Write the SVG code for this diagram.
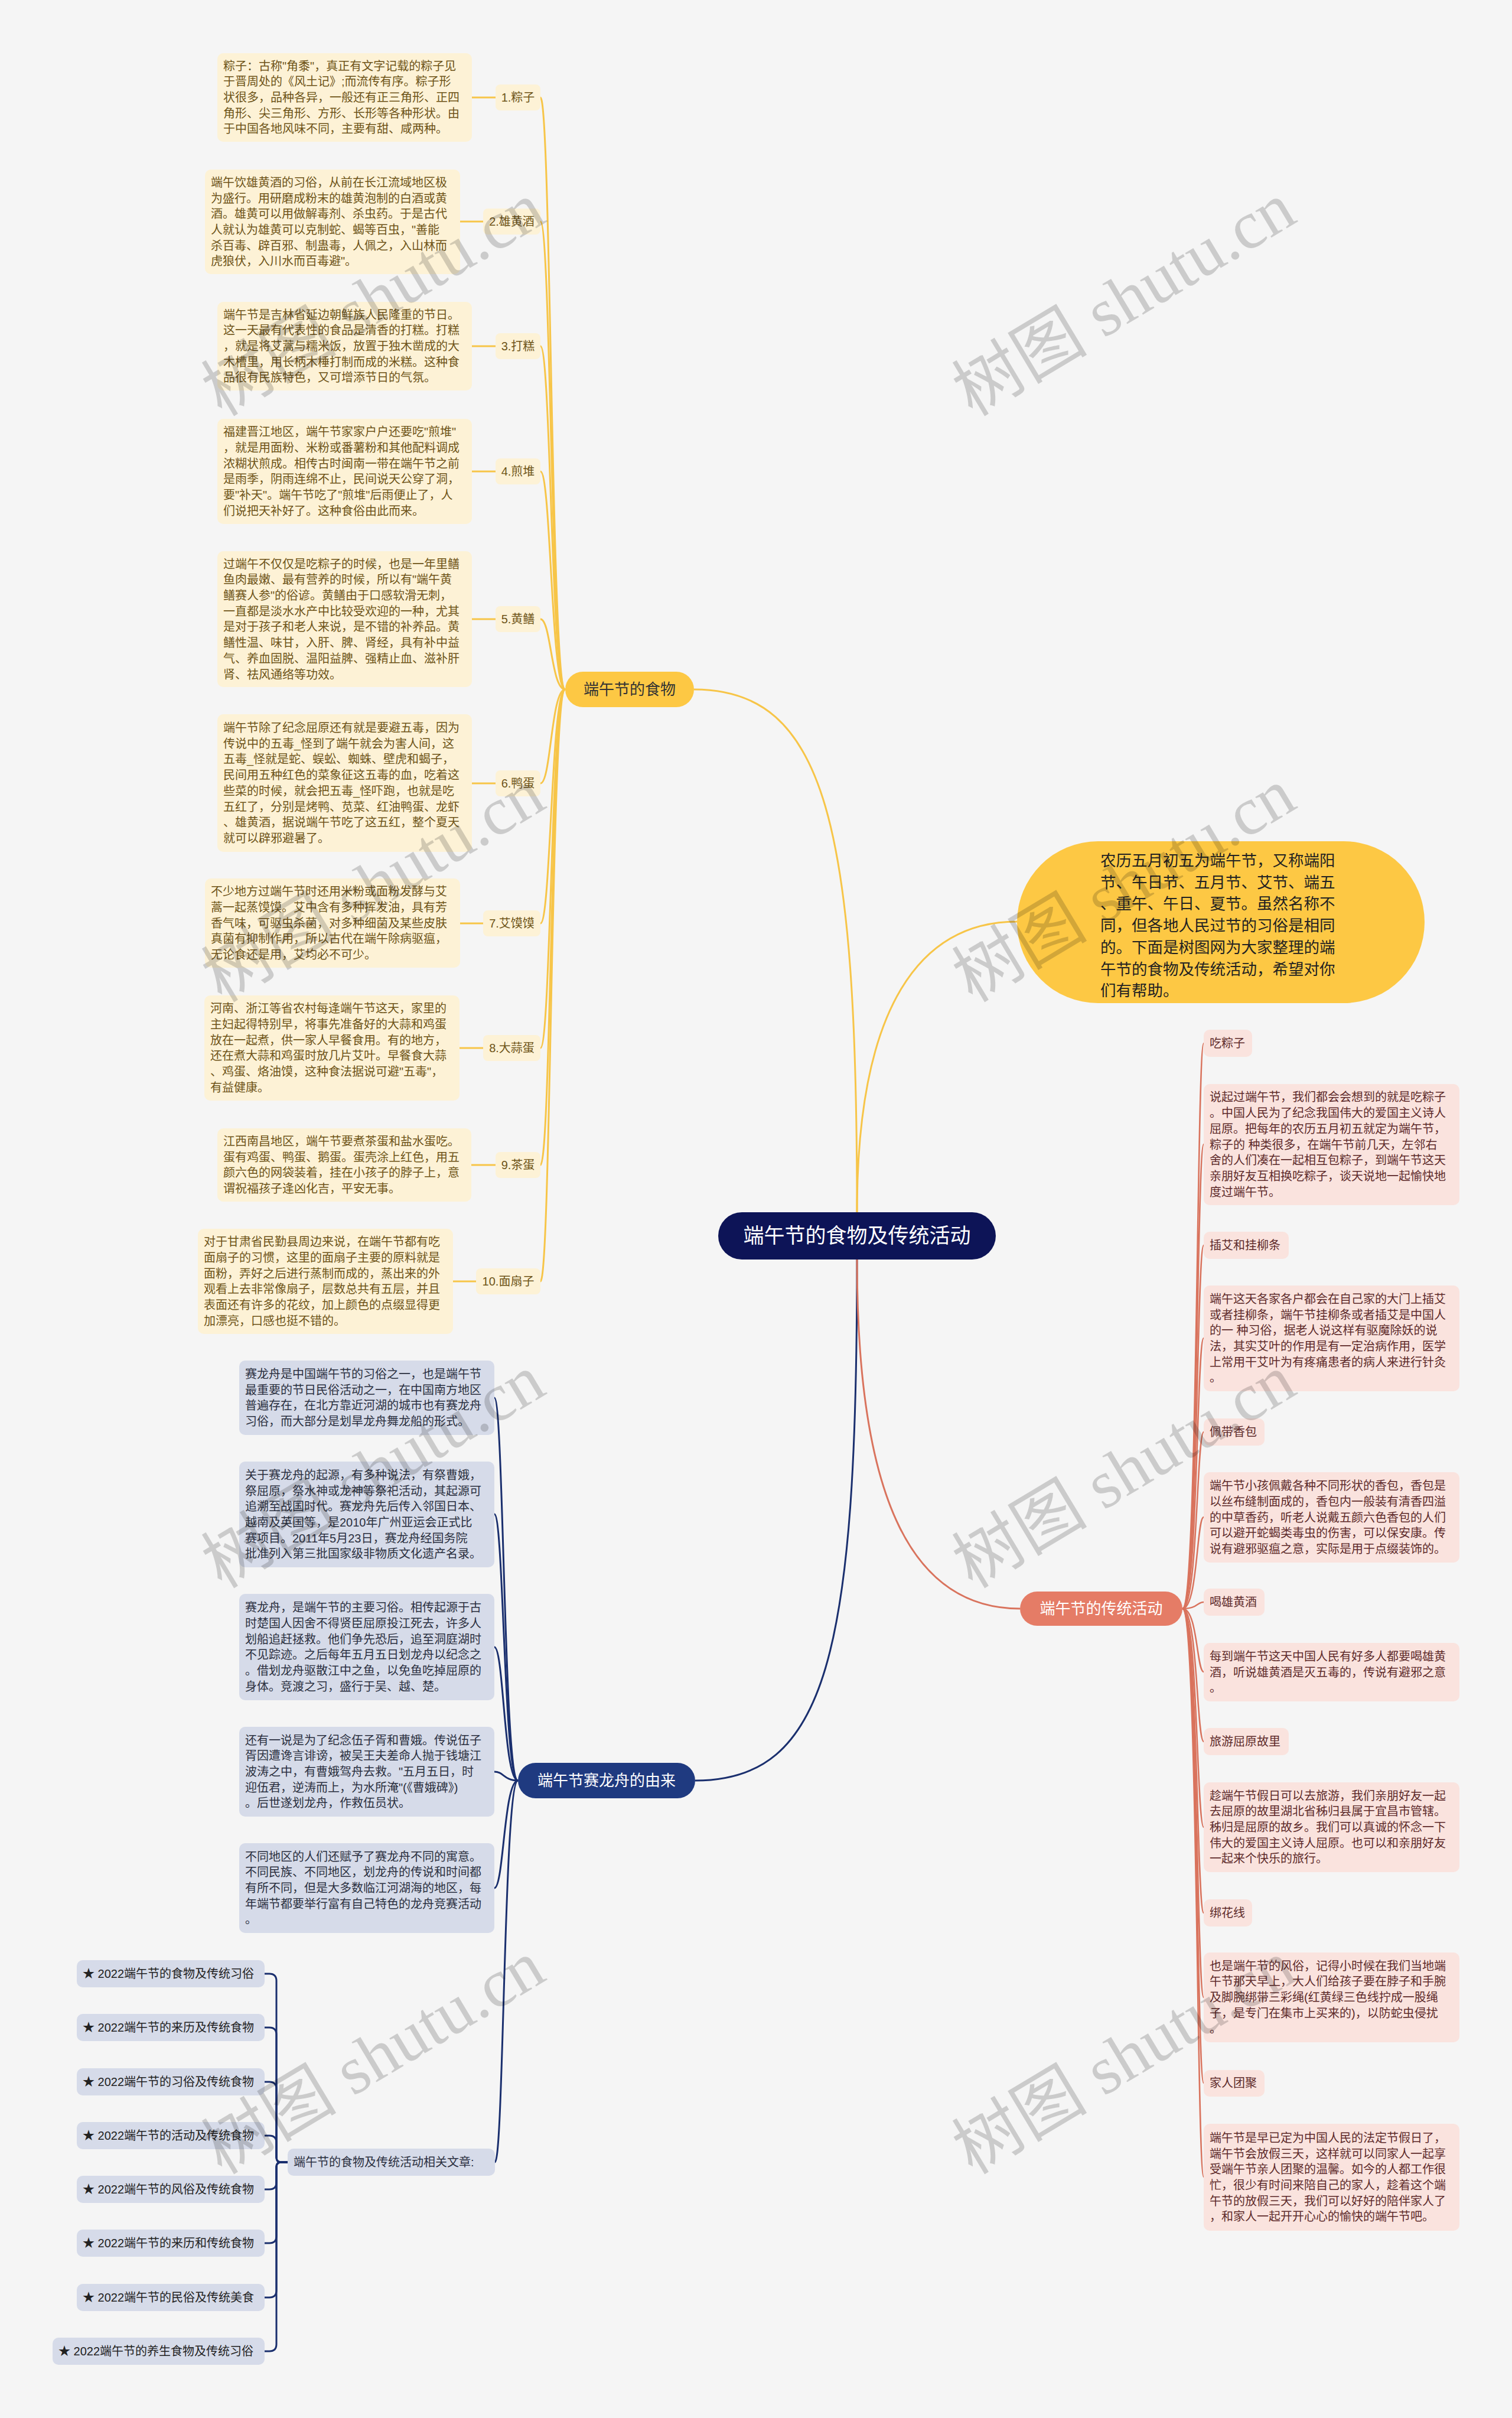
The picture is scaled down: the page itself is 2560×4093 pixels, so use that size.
<svg xmlns="http://www.w3.org/2000/svg" width="2560" height="4093" viewBox="0 0 2560 4093">
<style>
text{font-family:"Liberation Sans","Noto Sans CJK SC",sans-serif;}
.fb{fill:#fdf2d6}
.ft{fill:#6e5418;font-size:20px}
.db{fill:#d6dbe9}
.dt{fill:#2b3040;font-size:20px}
.ab{fill:#fae3de}
.at{fill:#5e2b2b;font-size:20px}
.cy{fill:none;stroke:#f7c548;stroke-width:3}
.cn{fill:none;stroke:#1a2f6e;stroke-width:3}
.cr{fill:none;stroke:#d9735d;stroke-width:2.5}
.wm{font-family:"Liberation Serif","Noto Sans CJK SC",serif;font-size:115px;fill:#000;fill-opacity:0.17}
</style>
<rect width="2560" height="4093" fill="#f5f5f5"/>

<g id="connectors">
  <path class="cy" d="M1451 2052 C1451 1400 1400 1167 1175 1167"/>
  <path class="cy" d="M1451 2052 C1451 1700 1560 1560 1722 1560"/>
  <path class="cn" d="M1451 2132 C1451 2800 1400 3014 1177 3014"/>
  <path class="cr" d="M1451 2132 C1451 2550 1550 2723 1727 2723" style="stroke-width:3"/>
  <path class="cy" d="M957 1167 C933 1167 933 165 915 165"/>
  <path class="cy" d="M957 1167 C933 1167 933 375 915 375"/>
  <path class="cy" d="M957 1167 C933 1167 933 586 915 586"/>
  <path class="cy" d="M957 1167 C933 1167 933 798 915 798"/>
  <path class="cy" d="M957 1167 C933 1167 933 1048 915 1048"/>
  <path class="cy" d="M957 1167 C933 1167 933 1326 915 1326"/>
  <path class="cy" d="M957 1167 C933 1167 933 1563 915 1563"/>
  <path class="cy" d="M957 1167 C933 1167 933 1774 915 1774"/>
  <path class="cy" d="M957 1167 C933 1167 933 1972 915 1972"/>
  <path class="cy" d="M957 1167 C933 1167 933 2169 915 2169"/>
  <path class="cy" d="M799 165 H839 M779 375 H818 M799 586 H839 M799 798 H839 M799 1048 H839 M799 1326 H839 M779 1563 H818 M778 1774 H818 M798 1972 H839 M767 2169 H806"/>
  <path class="cn" d="M877 3014 C853 3014 853 2366 837 2366"/>
  <path class="cn" d="M877 3014 C853 3014 853 2563 837 2563"/>
  <path class="cn" d="M877 3014 C853 3014 853 2788 837 2788"/>
  <path class="cn" d="M877 3014 C853 3014 853 2999 837 2999"/>
  <path class="cn" d="M877 3014 C853 3014 853 3196 837 3196"/>
  <path class="cn" d="M877 3014 C853 3014 853 3660 838 3660"/>
  <path class="cn" d="M487 3660 H476 Q468 3660 468 3652 V3353 Q468 3341 456 3341 H448"/>
  <path class="cn" d="M487 3660 H476 Q468 3660 468 3652 V3444 Q468 3432 456 3432 H448"/>
  <path class="cn" d="M487 3660 H476 Q468 3660 468 3652 V3536 Q468 3524 456 3524 H448"/>
  <path class="cn" d="M487 3660 H476 Q468 3660 468 3652 V3627 Q468 3615 456 3615 H448"/>
  <path class="cn" d="M487 3660 H476 Q468 3660 468 3668 V3694 Q468 3706 456 3706 H448"/>
  <path class="cn" d="M487 3660 H476 Q468 3660 468 3668 V3785 Q468 3797 456 3797 H448"/>
  <path class="cn" d="M487 3660 H476 Q468 3660 468 3668 V3877 Q468 3889 456 3889 H448"/>
  <path class="cn" d="M487 3660 H476 Q468 3660 468 3668 V3968 Q468 3980 456 3980 H448"/>
  <path class="cr" d="M2002 2723 C2028 2723 2026 1766 2038 1766"/>
  <path class="cr" d="M2002 2723 C2028 2723 2026 1937 2038 1937"/>
  <path class="cr" d="M2002 2723 C2028 2723 2026 2108 2038 2108"/>
  <path class="cr" d="M2002 2723 C2028 2723 2026 2265 2038 2265"/>
  <path class="cr" d="M2002 2723 C2028 2723 2026 2424 2038 2424"/>
  <path class="cr" d="M2002 2723 C2028 2723 2026 2568 2038 2568"/>
  <path class="cr" d="M2002 2723 C2028 2723 2026 2712 2038 2712"/>
  <path class="cr" d="M2002 2723 C2028 2723 2026 2830 2038 2830"/>
  <path class="cr" d="M2002 2723 C2028 2723 2026 2948 2038 2948"/>
  <path class="cr" d="M2002 2723 C2028 2723 2026 3093 2038 3093"/>
  <path class="cr" d="M2002 2723 C2028 2723 2026 3238 2038 3238"/>
  <path class="cr" d="M2002 2723 C2028 2723 2026 3381 2038 3381"/>
  <path class="cr" d="M2002 2723 C2028 2723 2026 3526 2038 3526"/>
  <path class="cr" d="M2002 2723 C2028 2723 2026 3685 2038 3685"/>
</g>

<g id="root">
  <rect x="1216" y="2052" width="470" height="80" rx="40" fill="#0d1457"/>
  <text x="1451" y="2104" text-anchor="middle" font-size="35" fill="#fff">端午节的食物及传统活动</text>
</g>

<g id="intro">
  <rect x="1722" y="1424" width="690" height="274" rx="137" fill="#fdc844"/>
  <text fill="#222" font-size="26.5"><tspan x="1863" y="1466">农历五月初五为端午节，又称端阳</tspan><tspan x="1863" dy="36.7">节、午日节、五月节、艾节、端五</tspan><tspan x="1863" dy="36.7">、重午、午日、夏节。虽然名称不</tspan><tspan x="1863" dy="36.7">同，但各地人民过节的习俗是相同</tspan><tspan x="1863" dy="36.7">的。下面是树图网为大家整理的端</tspan><tspan x="1863" dy="36.7">午节的食物及传统活动，希望对你</tspan><tspan x="1863" dy="36.7">们有帮助。</tspan></text>
</g>

<g id="food">
  <rect x="957" y="1137" width="218" height="60" rx="30" fill="#fdc844"/>
  <text x="1066" y="1176" text-anchor="middle" font-size="26" fill="#333">端午节的食物</text>
</g>

<g id="food-1">
  <rect x="839" y="143" width="76" height="44" rx="8" class="fb"/><text x="877" y="172" text-anchor="middle" class="ft">1.粽子</text>
  <rect x="368" y="90" width="431" height="150" rx="10" class="fb"/>
  <text class="ft"><tspan x="378" y="118.6">粽子：古称"角黍"，真正有文字记载的粽子见</tspan><tspan x="378" dy="26.7">于晋周处的《风土记》;而流传有序。粽子形</tspan><tspan x="378" dy="26.7">状很多，品种各异，一般还有正三角形、正四</tspan><tspan x="378" dy="26.7">角形、尖三角形、方形、长形等各种形状。由</tspan><tspan x="378" dy="26.7">于中国各地风味不同，主要有甜、咸两种。</tspan></text>
</g>
<g id="food-2">
  <rect x="818" y="353" width="97" height="44" rx="8" class="fb"/><text x="866.5" y="382" text-anchor="middle" class="ft">2.雄黄酒</text>
  <rect x="347" y="287" width="432" height="177" rx="10" class="fb"/>
  <text class="ft"><tspan x="357" y="315.8">端午饮雄黄酒的习俗，从前在长江流域地区极</tspan><tspan x="357" dy="26.7">为盛行。用研磨成粉末的雄黄泡制的白酒或黄</tspan><tspan x="357" dy="26.7">酒。雄黄可以用做解毒剂、杀虫药。于是古代</tspan><tspan x="357" dy="26.7">人就认为雄黄可以克制蛇、蝎等百虫，"善能</tspan><tspan x="357" dy="26.7">杀百毒、辟百邪、制蛊毒，人佩之，入山林而</tspan><tspan x="357" dy="26.7">虎狼伏，入川水而百毒避"。</tspan></text>
</g>
<g id="food-3">
  <rect x="839" y="564" width="76" height="44" rx="8" class="fb"/><text x="877" y="593" text-anchor="middle" class="ft">3.打糕</text>
  <rect x="368" y="511" width="431" height="150" rx="10" class="fb"/>
  <text class="ft"><tspan x="378" y="539.6">端午节是吉林省延边朝鲜族人民隆重的节日。</tspan><tspan x="378" dy="26.7">这一天最有代表性的食品是清香的打糕。打糕</tspan><tspan x="378" dy="26.7">，就是将艾蒿与糯米饭，放置于独木凿成的大</tspan><tspan x="378" dy="26.7">木槽里，用长柄木棰打制而成的米糕。这种食</tspan><tspan x="378" dy="26.7">品很有民族特色，又可增添节日的气氛。</tspan></text>
</g>
<g id="food-4">
  <rect x="839" y="776" width="76" height="44" rx="8" class="fb"/><text x="877" y="805" text-anchor="middle" class="ft">4.煎堆</text>
  <rect x="368" y="709" width="431" height="178" rx="10" class="fb"/>
  <text class="ft"><tspan x="378" y="738.3">福建晋江地区，端午节家家户户还要吃"煎堆"</tspan><tspan x="378" dy="26.7">，就是用面粉、米粉或番薯粉和其他配料调成</tspan><tspan x="378" dy="26.7">浓糊状煎成。相传古时闽南一带在端午节之前</tspan><tspan x="378" dy="26.7">是雨季，阴雨连绵不止，民间说天公穿了洞，</tspan><tspan x="378" dy="26.7">要"补天"。端午节吃了"煎堆"后雨便止了，人</tspan><tspan x="378" dy="26.7">们说把天补好了。这种食俗由此而来。</tspan></text>
</g>
<g id="food-5">
  <rect x="839" y="1026" width="76" height="44" rx="8" class="fb"/><text x="877" y="1055" text-anchor="middle" class="ft">5.黄鳝</text>
  <rect x="368" y="933" width="431" height="230" rx="10" class="fb"/>
  <text class="ft"><tspan x="378" y="961.6">过端午不仅仅是吃粽子的时候，也是一年里鳝</tspan><tspan x="378" dy="26.7">鱼肉最嫩、最有营养的时候，所以有"端午黄</tspan><tspan x="378" dy="26.7">鳝赛人参"的俗谚。黄鳝由于口感软滑无刺，</tspan><tspan x="378" dy="26.7">一直都是淡水水产中比较受欢迎的一种，尤其</tspan><tspan x="378" dy="26.7">是对于孩子和老人来说，是不错的补养品。黄</tspan><tspan x="378" dy="26.7">鳝性温、味甘，入肝、脾、肾经，具有补中益</tspan><tspan x="378" dy="26.7">气、养血固脱、温阳益脾、强精止血、滋补肝</tspan><tspan x="378" dy="26.7">肾、祛风通络等功效。</tspan></text>
</g>
<g id="food-6">
  <rect x="839" y="1304" width="76" height="44" rx="8" class="fb"/><text x="877" y="1333" text-anchor="middle" class="ft">6.鸭蛋</text>
  <rect x="368" y="1209" width="431" height="233" rx="10" class="fb"/>
  <text class="ft"><tspan x="378" y="1239">端午节除了纪念屈原还有就是要避五毒，因为</tspan><tspan x="378" dy="26.7">传说中的五毒_怪到了端午就会为害人间，这</tspan><tspan x="378" dy="26.7">五毒_怪就是蛇、蜈蚣、蜘蛛、壁虎和蝎子，</tspan><tspan x="378" dy="26.7">民间用五种红色的菜象征这五毒的血，吃着这</tspan><tspan x="378" dy="26.7">些菜的时候，就会把五毒_怪吓跑，也就是吃</tspan><tspan x="378" dy="26.7">五红了，分别是烤鸭、苋菜、红油鸭蛋、龙虾</tspan><tspan x="378" dy="26.7">、雄黄酒，据说端午节吃了这五红，整个夏天</tspan><tspan x="378" dy="26.7">就可以辟邪避暑了。</tspan></text>
</g>
<g id="food-7">
  <rect x="818" y="1541" width="97" height="44" rx="8" class="fb"/><text x="866.5" y="1570" text-anchor="middle" class="ft">7.艾馍馍</text>
  <rect x="347" y="1487" width="432" height="151" rx="10" class="fb"/>
  <text class="ft"><tspan x="357" y="1516.1">不少地方过端午节时还用米粉或面粉发酵与艾</tspan><tspan x="357" dy="26.7">蒿一起蒸馍馍。艾中含有多种挥发油，具有芳</tspan><tspan x="357" dy="26.7">香气味，可驱虫杀菌，对多种细菌及某些皮肤</tspan><tspan x="357" dy="26.7">真菌有抑制作用，所以古代在端午除病驱瘟，</tspan><tspan x="357" dy="26.7">无论食还是用，艾均必不可少。</tspan></text>
</g>
<g id="food-8">
  <rect x="818" y="1752" width="97" height="44" rx="8" class="fb"/><text x="866.5" y="1781" text-anchor="middle" class="ft">8.大蒜蛋</text>
  <rect x="346" y="1685" width="432" height="178" rx="10" class="fb"/>
  <text class="ft"><tspan x="356" y="1714.3">河南、浙江等省农村每逢端午节这天，家里的</tspan><tspan x="356" dy="26.7">主妇起得特别早，将事先准备好的大蒜和鸡蛋</tspan><tspan x="356" dy="26.7">放在一起煮，供一家人早餐食用。有的地方，</tspan><tspan x="356" dy="26.7">还在煮大蒜和鸡蛋时放几片艾叶。早餐食大蒜</tspan><tspan x="356" dy="26.7">、鸡蛋、烙油馍，这种食法据说可避"五毒"，</tspan><tspan x="356" dy="26.7">有益健康。</tspan></text>
</g>
<g id="food-9">
  <rect x="839" y="1950" width="76" height="44" rx="8" class="fb"/><text x="877" y="1979" text-anchor="middle" class="ft">9.茶蛋</text>
  <rect x="368" y="1910" width="430" height="124" rx="10" class="fb"/>
  <text class="ft"><tspan x="378" y="1939">江西南昌地区，端午节要煮茶蛋和盐水蛋吃。</tspan><tspan x="378" dy="26.7">蛋有鸡蛋、鸭蛋、鹅蛋。蛋壳涂上红色，用五</tspan><tspan x="378" dy="26.7">颜六色的网袋装着，挂在小孩子的脖子上，意</tspan><tspan x="378" dy="26.7">谓祝福孩子逢凶化吉，平安无事。</tspan></text>
</g>
<g id="food-10">
  <rect x="806" y="2147" width="109" height="44" rx="8" class="fb"/><text x="860.5" y="2176" text-anchor="middle" class="ft">10.面扇子</text>
  <rect x="335" y="2080" width="432" height="178" rx="10" class="fb"/>
  <text class="ft"><tspan x="345" y="2109.3">对于甘肃省民勤县周边来说，在端午节都有吃</tspan><tspan x="345" dy="26.7">面扇子的习惯，这里的面扇子主要的原料就是</tspan><tspan x="345" dy="26.7">面粉，弄好之后进行蒸制而成的，蒸出来的外</tspan><tspan x="345" dy="26.7">观看上去非常像扇子，层数总共有五层，并且</tspan><tspan x="345" dy="26.7">表面还有许多的花纹，加上颜色的点缀显得更</tspan><tspan x="345" dy="26.7">加漂亮，口感也挺不错的。</tspan></text>
</g>

<g id="dragon">
  <rect x="877" y="2984" width="300" height="60" rx="30" fill="#1f3a80"/>
  <text x="1027" y="3023" text-anchor="middle" font-size="26" fill="#fff">端午节赛龙舟的由来</text>
</g>
<g id="dragon-1">
  <rect x="405" y="2303" width="432" height="126" rx="10" class="db"/>
  <text class="dt"><tspan x="415" y="2333">赛龙舟是中国端午节的习俗之一，也是端午节</tspan><tspan x="415" dy="26.7">最重要的节日民俗活动之一，在中国南方地区</tspan><tspan x="415" dy="26.7">普遍存在，在北方靠近河湖的城市也有赛龙舟</tspan><tspan x="415" dy="26.7">习俗，而大部分是划旱龙舟舞龙船的形式。</tspan></text>
</g>
<g id="dragon-2">
  <rect x="405" y="2474" width="432" height="179" rx="10" class="db"/>
  <text class="dt"><tspan x="415" y="2503.8">关于赛龙舟的起源，有多种说法，有祭曹娥，</tspan><tspan x="415" dy="26.7">祭屈原，祭水神或龙神等祭祀活动，其起源可</tspan><tspan x="415" dy="26.7">追溯至战国时代。赛龙舟先后传入邻国日本、</tspan><tspan x="415" dy="26.7">越南及英国等，是2010年广州亚运会正式比</tspan><tspan x="415" dy="26.7">赛项目。2011年5月23日，赛龙舟经国务院</tspan><tspan x="415" dy="26.7">批准列入第三批国家级非物质文化遗产名录。</tspan></text>
</g>
<g id="dragon-3">
  <rect x="405" y="2698" width="432" height="180" rx="10" class="db"/>
  <text class="dt"><tspan x="415" y="2728.3">赛龙舟，是端午节的主要习俗。相传起源于古</tspan><tspan x="415" dy="26.7">时楚国人因舍不得贤臣屈原投江死去，许多人</tspan><tspan x="415" dy="26.7">划船追赶拯救。他们争先恐后，追至洞庭湖时</tspan><tspan x="415" dy="26.7">不见踪迹。之后每年五月五日划龙舟以纪念之</tspan><tspan x="415" dy="26.7">。借划龙舟驱散江中之鱼，以免鱼吃掉屈原的</tspan><tspan x="415" dy="26.7">身体。竞渡之习，盛行于吴、越、楚。</tspan></text>
</g>
<g id="dragon-4">
  <rect x="405" y="2923" width="432" height="152" rx="10" class="db"/>
  <text class="dt"><tspan x="415" y="2952.6">还有一说是为了纪念伍子胥和曹娥。传说伍子</tspan><tspan x="415" dy="26.7">胥因遭谗言诽谤，被吴王夫差命人抛于钱塘江</tspan><tspan x="415" dy="26.7">波涛之中，有曹娥驾舟去救。"五月五日，时</tspan><tspan x="415" dy="26.7">迎伍君，逆涛而上，为水所淹"(《曹娥碑》)</tspan><tspan x="415" dy="26.7">。后世遂划龙舟，作救伍员状。</tspan></text>
</g>
<g id="dragon-5">
  <rect x="405" y="3120" width="432" height="152" rx="10" class="db"/>
  <text class="dt"><tspan x="415" y="3149.6">不同地区的人们还赋予了赛龙舟不同的寓意。</tspan><tspan x="415" dy="26.7">不同民族、不同地区，划龙舟的传说和时间都</tspan><tspan x="415" dy="26.7">有所不同，但是大多数临江河湖海的地区，每</tspan><tspan x="415" dy="26.7">年端节都要举行富有自己特色的龙舟竞赛活动</tspan><tspan x="415" dy="26.7">。</tspan></text>
</g>
<g id="related">
  <rect x="487" y="3637" width="351" height="46" rx="10" class="db"/>
  <text x="497" y="3667" class="dt" fill="#222">端午节的食物及传统活动相关文章:</text>
</g>
<g id="articles" class="dt">
  <rect x="130" y="3318" width="318" height="46" rx="10" class="db"/><text x="140" y="3348" style="fill:#222">★ 2022端午节的食物及传统习俗</text>
  <rect x="130" y="3409" width="318" height="46" rx="10" class="db"/><text x="140" y="3439" style="fill:#222">★ 2022端午节的来历及传统食物</text>
  <rect x="130" y="3501" width="318" height="46" rx="10" class="db"/><text x="140" y="3531" style="fill:#222">★ 2022端午节的习俗及传统食物</text>
  <rect x="130" y="3592" width="318" height="46" rx="10" class="db"/><text x="140" y="3622" style="fill:#222">★ 2022端午节的活动及传统食物</text>
  <rect x="130" y="3683" width="318" height="46" rx="10" class="db"/><text x="140" y="3713" style="fill:#222">★ 2022端午节的风俗及传统食物</text>
  <rect x="130" y="3774" width="318" height="46" rx="10" class="db"/><text x="140" y="3804" style="fill:#222">★ 2022端午节的来历和传统食物</text>
  <rect x="130" y="3866" width="318" height="46" rx="10" class="db"/><text x="140" y="3896" style="fill:#222">★ 2022端午节的民俗及传统美食</text>
  <rect x="89" y="3957" width="359" height="46" rx="10" class="db"/><text x="99" y="3987" style="fill:#222">★ 2022端午节的养生食物及传统习俗</text>
</g>

<g id="activity">
  <rect x="1727" y="2694" width="275" height="58" rx="29" fill="#e57c66"/>
  <text x="1864.5" y="2732" text-anchor="middle" font-size="26" fill="#fff">端午节的传统活动</text>
</g>
<g id="act-1">
  <rect x="2038" y="1743" width="82" height="46" rx="10" class="ab"/><text x="2048" y="1773" class="at">吃粽子</text>
  <rect x="2038" y="1835" width="433" height="205" rx="10" class="ab"/>
  <text class="at"><tspan x="2048" y="1864.4">说起过端午节，我们都会会想到的就是吃粽子</tspan><tspan x="2048" dy="26.7">。中国人民为了纪念我国伟大的爱国主义诗人</tspan><tspan x="2048" dy="26.7">屈原。把每年的农历五月初五就定为端午节，</tspan><tspan x="2048" dy="26.7">粽子的 种类很多，在端午节前几天，左邻右</tspan><tspan x="2048" dy="26.7">舍的人们凑在一起相互包粽子，到端午节这天</tspan><tspan x="2048" dy="26.7">亲朋好友互相换吃粽子，谈天说地一起愉快地</tspan><tspan x="2048" dy="26.7">度过端午节。</tspan></text>
</g>
<g id="act-2">
  <rect x="2038" y="2085" width="144" height="46" rx="10" class="ab"/><text x="2048" y="2115" class="at">插艾和挂柳条</text>
  <rect x="2038" y="2176" width="433" height="179" rx="10" class="ab"/>
  <text class="at"><tspan x="2048" y="2205.8">端午这天各家各户都会在自己家的大门上插艾</tspan><tspan x="2048" dy="26.7">或者挂柳条，端午节挂柳条或者插艾是中国人</tspan><tspan x="2048" dy="26.7">的一 种习俗，据老人说这样有驱魔除妖的说</tspan><tspan x="2048" dy="26.7">法，其实艾叶的作用是有一定治病作用，医学</tspan><tspan x="2048" dy="26.7">上常用干艾叶为有疼痛患者的病人来进行针灸</tspan><tspan x="2048" dy="26.7">。</tspan></text>
</g>
<g id="act-3">
  <rect x="2038" y="2401" width="103" height="46" rx="10" class="ab"/><text x="2048" y="2431" class="at">佩带香包</text>
  <rect x="2038" y="2492" width="433" height="153" rx="10" class="ab"/>
  <text class="at"><tspan x="2048" y="2522.1">端午节小孩佩戴各种不同形状的香包，香包是</tspan><tspan x="2048" dy="26.7">以丝布缝制面成的，香包内一般装有清香四溢</tspan><tspan x="2048" dy="26.7">的中草香药，听老人说戴五颜六色香包的人们</tspan><tspan x="2048" dy="26.7">可以避开蛇蝎类毒虫的伤害，可以保安康。传</tspan><tspan x="2048" dy="26.7">说有避邪驱瘟之意，实际是用于点缀装饰的。</tspan></text>
</g>
<g id="act-4">
  <rect x="2038" y="2689" width="103" height="46" rx="10" class="ab"/><text x="2048" y="2719" class="at">喝雄黄酒</text>
  <rect x="2038" y="2781" width="433" height="99" rx="10" class="ab"/>
  <text class="at"><tspan x="2048" y="2810.8">每到端午节这天中国人民有好多人都要喝雄黄</tspan><tspan x="2048" dy="26.7">酒，听说雄黄酒是灭五毒的，传说有避邪之意</tspan><tspan x="2048" dy="26.7">。</tspan></text>
</g>
<g id="act-5">
  <rect x="2038" y="2925" width="144" height="46" rx="10" class="ab"/><text x="2048" y="2955" class="at">旅游屈原故里</text>
  <rect x="2038" y="3017" width="433" height="152" rx="10" class="ab"/>
  <text class="at"><tspan x="2048" y="3046.6">趁端午节假日可以去旅游，我们亲朋好友一起</tspan><tspan x="2048" dy="26.7">去屈原的故里湖北省秭归县属于宜昌市管辖。</tspan><tspan x="2048" dy="26.7">秭归是屈原的故乡。我们可以真诚的怀念一下</tspan><tspan x="2048" dy="26.7">伟大的爱国主义诗人屈原。也可以和亲朋好友</tspan><tspan x="2048" dy="26.7">一起来个快乐的旅行。</tspan></text>
</g>
<g id="act-6">
  <rect x="2038" y="3215" width="82" height="46" rx="10" class="ab"/><text x="2048" y="3245" class="at">绑花线</text>
  <rect x="2038" y="3305" width="433" height="152" rx="10" class="ab"/>
  <text class="at"><tspan x="2048" y="3334.6">也是端午节的风俗，记得小时候在我们当地端</tspan><tspan x="2048" dy="26.7">午节那天早上，大人们给孩子要在脖子和手腕</tspan><tspan x="2048" dy="26.7">及脚腕绑带三彩绳(红黄绿三色线拧成一股绳</tspan><tspan x="2048" dy="26.7">子，是专门在集市上买来的)，以防蛇虫侵扰</tspan><tspan x="2048" dy="26.7">。</tspan></text>
</g>
<g id="act-7">
  <rect x="2038" y="3504" width="103" height="45" rx="10" class="ab"/><text x="2048" y="3533" class="at">家人团聚</text>
  <rect x="2038" y="3595" width="433" height="181" rx="10" class="ab"/>
  <text class="at"><tspan x="2048" y="3625.8">端午节是早已定为中国人民的法定节假日了，</tspan><tspan x="2048" dy="26.7">端午节会放假三天，这样就可以同家人一起享</tspan><tspan x="2048" dy="26.7">受端午节亲人团聚的温馨。如今的人都工作很</tspan><tspan x="2048" dy="26.7">忙，很少有时间来陪自己的家人，趁着这个端</tspan><tspan x="2048" dy="26.7">午节的放假三天，我们可以好好的陪伴家人了</tspan><tspan x="2048" dy="26.7">，和家人一起开开心心的愉快的端午节吧。</tspan></text>
</g>

<g id="watermark" class="wm" text-anchor="middle">
  <text class="wm" transform="translate(652,540) rotate(-31)">树图 shutu.cn</text>
  <text class="wm" transform="translate(1923,540) rotate(-31)">树图 shutu.cn</text>
  <text class="wm" transform="translate(652,1532) rotate(-31)">树图 shutu.cn</text>
  <text class="wm" transform="translate(1923,1532) rotate(-31)">树图 shutu.cn</text>
  <text class="wm" transform="translate(652,2524) rotate(-31)">树图 shutu.cn</text>
  <text class="wm" transform="translate(1923,2524) rotate(-31)">树图 shutu.cn</text>
  <text class="wm" transform="translate(652,3516) rotate(-31)">树图 shutu.cn</text>
  <text class="wm" transform="translate(1923,3516) rotate(-31)">树图 shutu.cn</text>
</g>
</svg>
